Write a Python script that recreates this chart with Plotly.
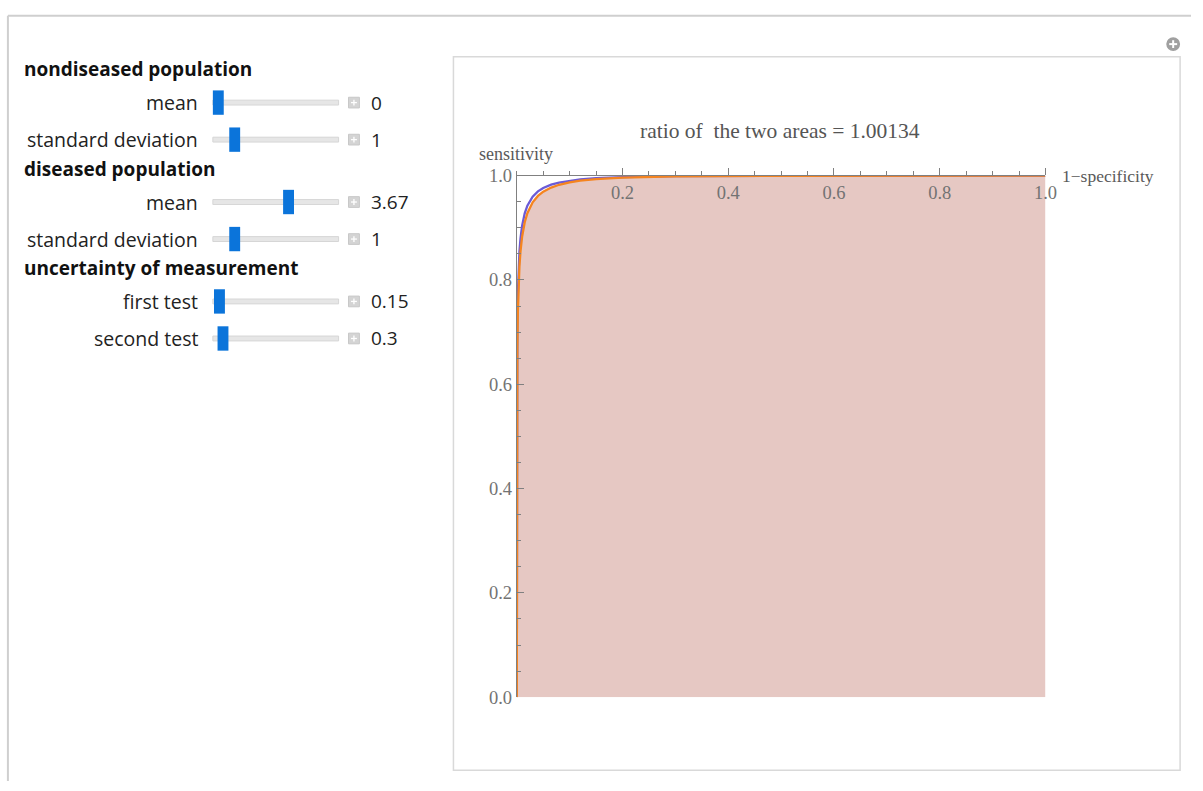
import plotly.graph_objects as go

W, H = 1203, 791

# ---- data ----
fpr = [0, 1e-6, 1e-5, 1e-4, 5e-4, 0.001, 0.002, 0.003, 0.005, 0.007, 0.01, 0.015,
       0.02, 0.03, 0.04, 0.05, 0.065, 0.08, 0.1, 0.12, 0.15, 0.2, 0.3, 0.5, 1.0]
tpr_first = [0, 0.1305, 0.2624, 0.4643, 0.6327, 0.7051, 0.7737, 0.8110, 0.8540, 0.8794,
             0.9037, 0.9278, 0.9425, 0.9598, 0.9699, 0.9764, 0.9828, 0.9869, 0.99056,
             0.99294, 0.99524, 0.99735, 0.99905, 0.99986, 1.0]
tpr_second = [0, 0.1079, 0.2266, 0.4193, 0.5889, 0.6646, 0.7380, 0.7786, 0.8263, 0.8550,
              0.8828, 0.9107, 0.9281, 0.9489, 0.9612, 0.9693, 0.9773, 0.9826, 0.98725,
              0.99037, 0.99341, 0.99625, 0.99861, 0.99978, 1.0]
x_ticks = [0.2, 0.4, 0.6, 0.8, 1.0]
y_ticks = [0.0, 0.2, 0.4, 0.6, 0.8, 1.0]
title_text = "ratio of  the two areas = 1.00134"

# control panel
headings = ["nondiseased population", "diseased population", "uncertainty of measurement"]
heading_y = [61, 163, 265]
slider_labels = ["mean", "standard deviation", "mean", "standard deviation", "first test", "second test"]
slider_values = [0, 1, 3.67, 1, 0.15, 0.3]
slider_value_text = ["0", "1", "3.67", "1", "0.15", "0.3"]
slider_min = [0, 0.5, 0, 0.5, 0.1, 0.1]
slider_max = [6, 4, 6, 4, 5, 5]
slider_y = [95, 133, 197, 235, 299, 337]

def px(x):
    return x / W

def py(y):
    return 1 - y / H

fig = go.Figure()

fill_col = "#E6C8C3"
blue = "#6B5BD6"
orange = "#F5841F"

fig.add_trace(go.Scatter(x=fpr, y=tpr_second, mode="lines", line=dict(width=0, color=fill_col),
                         fill="tozeroy", fillcolor=fill_col, hoverinfo="skip", showlegend=False))
fig.add_trace(go.Scatter(x=fpr, y=tpr_first, mode="lines", line=dict(width=2.3, color=blue),
                         cliponaxis=False, showlegend=False))
fig.add_trace(go.Scatter(x=fpr, y=tpr_second, mode="lines", line=dict(width=2.3, color=orange),
                         cliponaxis=False, showlegend=False))

axcol = "#808080"
tickfont = dict(family="Liberation Serif", size=18.5, color="#737373")

x0p, x1p = 522, 1056
y0p, y1p = 705, 170

fig.update_layout(
    width=W, height=H, autosize=False,
    margin=dict(l=0, r=0, t=0, b=0, pad=0),
    paper_bgcolor="white", plot_bgcolor="white",
    showlegend=False,
    xaxis=dict(domain=[px(x0p), px(x1p)], range=[0, 1], side="top",
               showgrid=False, zeroline=False, showline=True, linecolor=axcol, linewidth=1,
               ticks="outside", ticklen=7, tickcolor=axcol, tickwidth=1,
               tickvals=x_ticks, ticktext=[f"{v:.1f}" for v in x_ticks],
               ticklabelposition="inside", ticklabeloverflow="allow",
               ticklabelstandoff=11,
               tickfont=tickfont,
               minor=dict(dtick=0.05, ticks="outside", ticklen=4, tickcolor=axcol, showgrid=False),
               fixedrange=True),
    yaxis=dict(domain=[py(y0p), py(y1p)], range=[0, 1],
               showgrid=False, zeroline=False, showline=True, linecolor=axcol, linewidth=1,
               ticks="inside", ticklen=7, tickcolor=axcol, tickwidth=1,
               tickvals=y_ticks, ticktext=[f"{v:.1f}" for v in y_ticks],
               tickfont=tickfont,
               minor=dict(dtick=0.05, ticks="inside", ticklen=4, tickcolor=axcol, showgrid=False),
               fixedrange=True),
)

shapes = []
annotations = []

# outer panel borders
shapes.append(dict(type="line", xref="paper", yref="paper", x0=px(8), x1=px(1203), y0=py(6), y1=py(6),
                   line=dict(color="#cfcfcf", width=2)))
shapes.append(dict(type="line", xref="paper", yref="paper", x0=px(8), x1=px(8), y0=py(6), y1=py(791),
                   line=dict(color="#cfcfcf", width=2)))
# inner plot box
shapes.append(dict(type="rect", xref="paper", yref="paper", x0=px(458), x1=px(1192), y0=py(48), y1=py(780),
                   line=dict(color="#d9d9d9", width=1.5), fillcolor="rgba(0,0,0,0)", layer="below"))
# plus icon top right
shapes.append(dict(type="circle", xref="paper", yref="paper", x0=px(1178), x1=px(1192), y0=py(28), y1=py(42),
                   line=dict(color="#a0a0a0", width=0), fillcolor="#a0a0a0"))
shapes.append(dict(type="line", xref="paper", yref="paper", x0=px(1181), x1=px(1189), y0=py(35), y1=py(35),
                   line=dict(color="white", width=2)))
shapes.append(dict(type="line", xref="paper", yref="paper", x0=px(1185), x1=px(1185), y0=py(31), y1=py(39),
                   line=dict(color="white", width=2)))

ctrl_font = "Open Sans"
for h, yy in zip(headings, heading_y):
    annotations.append(dict(text=f"<b>{h}</b>", xref="paper", yref="paper", x=px(22), y=py(yy),
                            xanchor="left", yanchor="middle", showarrow=False,
                            font=dict(family=ctrl_font, size=19, color="#111")))

tr_x0, tr_x1 = 215, 342
thumb_w = 11
for lab, val, vtxt, lo, hi, yy in zip(slider_labels, slider_values, slider_value_text,
                                      slider_min, slider_max, slider_y):
    annotations.append(dict(text=lab, xref="paper", yref="paper", x=px(202), y=py(yy),
                            xanchor="right", yanchor="middle", showarrow=False,
                            font=dict(family=ctrl_font, size=19.5, color="#222")))
    # track
    shapes.append(dict(type="rect", xref="paper", yref="paper", x0=px(tr_x0), x1=px(tr_x1),
                       y0=py(yy + 2.5), y1=py(yy - 2.5), line=dict(color="#d6d6d6", width=1),
                       fillcolor="#e6e6e6"))
    f = (val - lo) / (hi - lo)
    cx = tr_x0 + thumb_w / 2 + f * (tr_x1 - tr_x0 - thumb_w)
    shapes.append(dict(type="rect", xref="paper", yref="paper", x0=px(cx - thumb_w / 2), x1=px(cx + thumb_w / 2),
                       y0=py(yy + 12.5), y1=py(yy - 12.5), line=dict(color="#0a6ed1", width=0),
                       fillcolor="#0b74da"))
    # plus box
    shapes.append(dict(type="rect", xref="paper", yref="paper", x0=px(352), x1=px(363),
                       y0=py(yy + 5.5), y1=py(yy - 5.5), line=dict(color="#c8c8c8", width=1),
                       fillcolor="#d4d4d4"))
    shapes.append(dict(type="line", xref="paper", yref="paper", x0=px(354.5), x1=px(360.5),
                       y0=py(yy), y1=py(yy), line=dict(color="white", width=1.3)))
    shapes.append(dict(type="line", xref="paper", yref="paper", x0=px(357.5), x1=px(357.5),
                       y0=py(yy - 3), y1=py(yy + 3), line=dict(color="white", width=1.3)))
    annotations.append(dict(text=vtxt, xref="paper", yref="paper", x=px(373), y=py(yy),
                            xanchor="left", yanchor="middle", showarrow=False,
                            font=dict(family=ctrl_font, size=19, color="#222")))

# plot labels
annotations.append(dict(text=title_text, xref="paper", yref="paper", x=px(788), y=py(124),
                        xanchor="center", yanchor="middle", showarrow=False,
                        font=dict(family="Liberation Serif", size=21.5, color="#555")))
annotations.append(dict(text="sensitivity", xref="paper", yref="paper", x=px(521), y=py(148),
                        xanchor="center", yanchor="middle", showarrow=False,
                        font=dict(family="Liberation Serif", size=18, color="#5a5a5a")))
annotations.append(dict(text="1\u2212specificity", xref="paper", yref="paper", x=px(1071), y=py(170),
                        xanchor="left", yanchor="middle", showarrow=False,
                        font=dict(family="Liberation Serif", size=17.5, color="#5a5a5a")))

fig.update_layout(shapes=shapes, annotations=annotations)

fig.write_html(
    "out.html",
    config={"displayModeBar": False},
    post_script="document.documentElement.style.margin='0';document.body.style.margin='0';"
                "document.body.style.overflow='hidden';document.documentElement.style.overflow='hidden';",
)
